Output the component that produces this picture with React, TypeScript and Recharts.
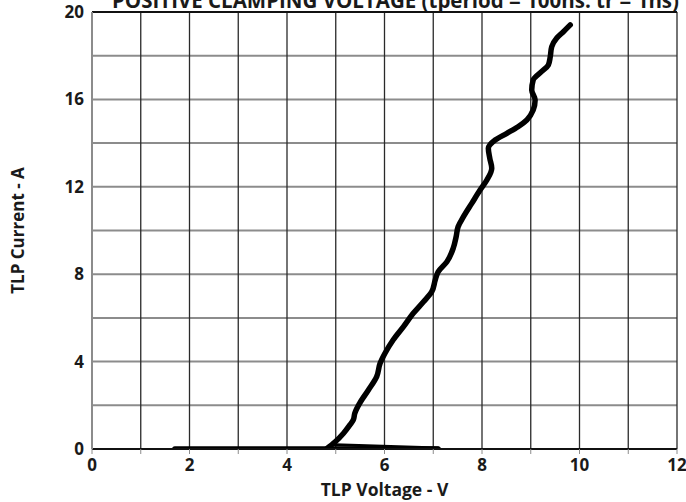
import { LineChart, Line, XAxis, YAxis, CartesianGrid, ReferenceLine, Label } from "recharts";

// TLP sweep, rising branch (V, A)
const curveVoltage = [
  4.81, 4.99, 5.16, 5.29, 5.36, 5.39, 5.49, 5.67, 5.84, 5.91,
  6.01, 6.18, 6.39, 6.59, 6.8, 6.97, 7.04, 7.1, 7.28, 7.41,
  7.47, 7.51, 7.62, 7.79, 7.96, 8.1, 8.2, 8.16, 8.13, 8.27,
  8.51, 8.74, 8.92, 9.05, 9.09, 9.02, 9.05, 9.22, 9.36, 9.4,
  9.43, 9.53, 9.67, 9.81,
];
const curveCurrent = [
  0, 0.33, 0.72, 1.1, 1.33, 1.63, 2.09, 2.7, 3.31, 3.92,
  4.38, 5.0, 5.6, 6.21, 6.74, 7.2, 7.73, 8.11, 8.57, 9.19,
  9.72, 10.17, 10.63, 11.24, 11.85, 12.31, 12.85, 13.3, 13.76, 14.14,
  14.45, 14.75, 15.06, 15.51, 15.97, 16.43, 16.89, 17.27, 17.57, 17.95,
  18.41, 18.8, 19.1, 19.41,
];

// leakage floor and return trace
const baseVoltage = [1.7, 7.1];
const baseCurrent = [0, 0];
const returnVoltage = [4.98, 7.1];
const returnCurrent = [0.2, 0.05];

const xTicks = [0, 1, 2, 3, 4, 5, 6, 7, 8, 9, 10, 11, 12];
const yTicks = [0, 2, 4, 6, 8, 10, 12, 14, 16, 18, 20];

const zip = (vs: number[], is: number[]) => vs.map((v, k) => ({ v, i: is[k] }));

const curveData = zip(curveVoltage, curveCurrent);
const baseData = zip(baseVoltage, baseCurrent);
const returnData = zip(returnVoltage, returnCurrent);

const font = "'Open Sans', 'Liberation Sans', sans-serif";
const tickStyle = { fill: "#1a1a1a", fontSize: 17, fontWeight: 700, fontFamily: font };

export default function App() {
  return (
    <div style={{ position: "absolute", left: 0, top: 0, width: 686, height: 502, background: "#fff", overflow: "hidden" }}>
      <div
        style={{
          position: "absolute",
          left: 112,
          top: -14,
          whiteSpace: "nowrap",
          fontFamily: font,
          fontWeight: 700,
          fontSize: 20.5,
          color: "#1a1a1a",
        }}
      >
        POSITIVE CLAMPING VOLTAGE (tperiod = 100ns: tr = 1ns)
      </div>
      <LineChart width={686} height={502} margin={{ top: 12, right: 9, bottom: 0, left: 0 }}>
        <CartesianGrid vertical={false} stroke="#8c8c8c" strokeWidth={2} />
        <CartesianGrid horizontal={false} stroke="#2a2a2a" strokeWidth={1.3} />
        <XAxis
          type="number"
          dataKey="v"
          domain={[0, 12]}
          ticks={xTicks}
          interval={0}
          allowDataOverflow
          height={53}
          tick={tickStyle}
          tickFormatter={(t: number) => (t % 2 === 0 ? String(t) : "")}
          tickSize={5}
          tickMargin={5}
          tickLine={{ stroke: "#8c8c8c" }}
          axisLine={{ stroke: "#111", strokeWidth: 2 }}
        >
          <Label
            value="TLP Voltage - V"
            position="insideBottom"
            offset={6}
            style={{ fill: "#1a1a1a", fontSize: 17.5, fontWeight: 700, fontFamily: font }}
          />
        </XAxis>
        <YAxis
          type="number"
          domain={[0, 20]}
          ticks={yTicks}
          interval={0}
          allowDataOverflow
          width={92}
          tick={tickStyle}
          tickFormatter={(t: number) => (t % 4 === 0 ? String(t) : "")}
          tickLine={false}
          axisLine={{ stroke: "#8c8c8c", strokeWidth: 2 }}
        >
          <Label
            value="TLP Current - A"
            angle={-90}
            position="insideLeft"
            offset={18}
            style={{ fill: "#1a1a1a", fontSize: 17, fontWeight: 700, fontFamily: font, textAnchor: "middle" }}
          />
        </YAxis>
        <ReferenceLine y={20} stroke="#111" strokeWidth={2} />
        <Line
          data={baseData}
          dataKey="i"
          type="linear"
          stroke="#000"
          strokeWidth={5.5}
          strokeLinecap="round"
          dot={false}
          isAnimationActive={false}
        />
        <Line
          data={returnData}
          dataKey="i"
          type="linear"
          stroke="#000"
          strokeWidth={3}
          strokeLinecap="round"
          dot={false}
          isAnimationActive={false}
        />
        <Line
          data={curveData}
          dataKey="i"
          type="monotoneY"
          stroke="#000"
          strokeWidth={5.5}
          strokeLinecap="round"
          strokeLinejoin="round"
          dot={false}
          isAnimationActive={false}
        />
      </LineChart>
    </div>
  );
}
